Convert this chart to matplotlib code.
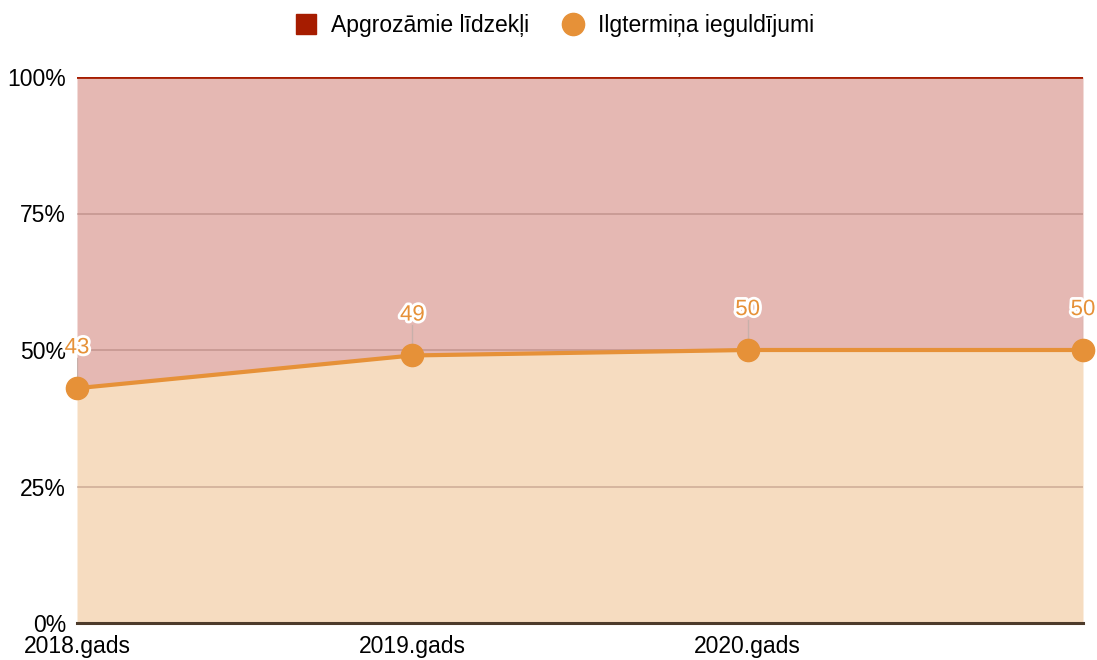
import numpy as np
import matplotlib
matplotlib.use("Agg")
from matplotlib import pyplot as plt
from matplotlib import patheffects as pe
from matplotlib.lines import Line2D

plt.rcParams['font.family'] = ['Liberation Sans', 'DejaVu Sans']

# dati
gadi = ['2018.gads', '2019.gads', '2020.gads', '2021.gads']
ilgtermina = [43, 49, 50, 50]      # Ilgtermiņa ieguldījumi, %
apgrozamie = [57, 51, 50, 50]      # Apgrozāmie līdzekļi, %
tick_labels = ['2018.gads', '2019.gads', '2020.gads', '']

orange = '#e69138'
orange_fill = '#f6dcc0'
red = '#a61c00'
red_fill = '#e5b8b3'

x = np.arange(len(gadi))
ilg = np.array(ilgtermina)
kop = ilg + np.array(apgrozamie)

fig = plt.figure(figsize=(10.97, 6.6), dpi=100)
ax = fig.add_axes([77/1097, 37/660, 1006/1097, 546/660])

ax.fill_between(x, 0, ilg, color=orange_fill, lw=0, zorder=1)
ax.fill_between(x, ilg, kop, color=red_fill, lw=0, zorder=1)

# rezga linijas
for v in [25, 50, 75]:
    ax.axhline(v, color='#8a5a50', alpha=0.35, lw=1.2, zorder=2)

ax.plot(x, kop, color=red, lw=2, zorder=3)
ax.plot(x, ilg, color=orange, lw=3, marker='o', ms=16, zorder=4, clip_on=False)
ax.axhline(0, color='#4d3b2b', lw=2.2, zorder=5, clip_on=False)

# vertibu etiketes
for xi, v in zip(x, ilg):
    ax.plot([xi, xi], [v + 1.2, v + 5.5], color='#c8b0aa', lw=1, zorder=3)
    ax.text(xi, v + 7.4, str(v), ha='center', va='center', fontsize=16,
            color=orange, zorder=6,
            path_effects=[pe.withStroke(linewidth=4, foreground='white')])

ax.set_xlim(x[0], x[-1])
ax.set_ylim(0, 100)
ax.set_yticks([0, 25, 50, 75, 100])
ax.set_yticklabels(['0%', '25%', '50%', '75%', '100%'], fontsize=16.5)
ax.set_xticks(x)
ax.set_xticklabels(tick_labels, fontsize=16.5)
ax.tick_params(length=0)
ax.tick_params(axis='y', pad=8)
ax.tick_params(axis='x', pad=9)
for s in ax.spines.values():
    s.set_visible(False)

handles = [Line2D([], [], ls='', marker='s', ms=15, color=red),
           Line2D([], [], ls='', marker='o', ms=16, color=orange)]
fig.legend(handles, ['Apgrozāmie līdzekļi', 'Ilgtermiņa ieguldījumi'],
           loc='center', bbox_to_anchor=(0.5, 0.962), ncol=2, frameon=False,
           fontsize=16.5, handletextpad=0.1, columnspacing=0.9)

fig.savefig('out.png', dpi=100)
